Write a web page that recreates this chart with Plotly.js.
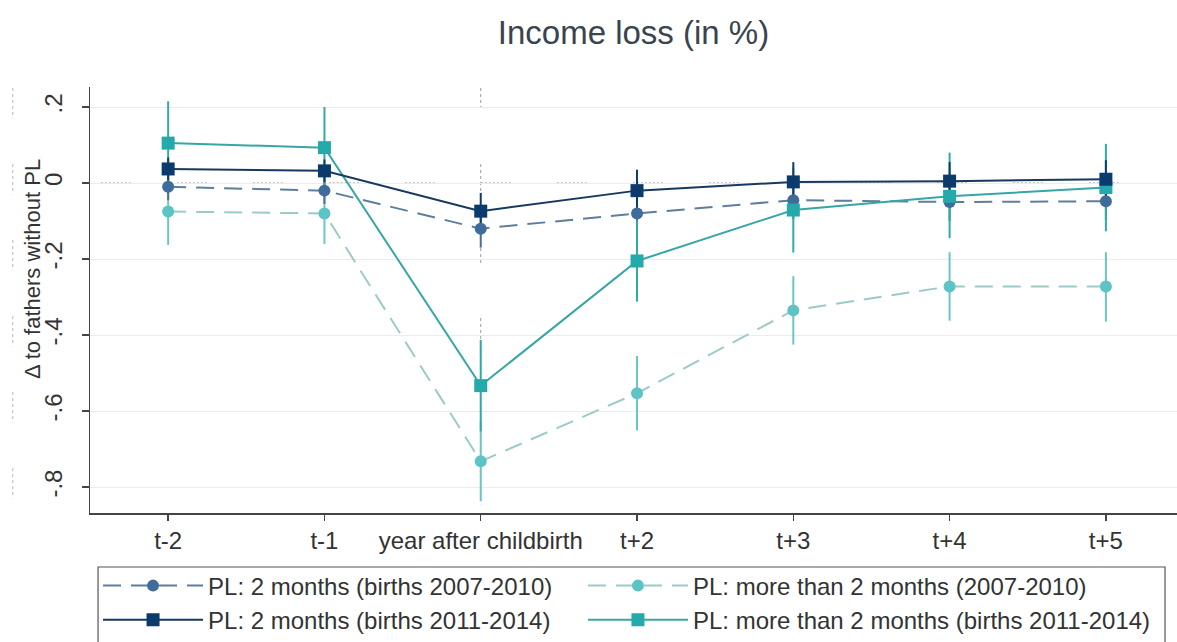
<!DOCTYPE html>
<html>
<head>
<meta charset="utf-8">
<script src="https://cdn.plot.ly/plotly-3.0.1.min.js"></script>
<style>html,body{margin:0;padding:0;background:#fff;}#chart{width:1177px;height:642px;}</style>
</head>
<body>
<div id="chart"></div>
<script>
// Categories (x axis)
const categories = ["t-2", "t-1", "year after childbirth", "t+2", "t+3", "t+4", "t+5"];

// Y tick labels
const yTickVals = [-0.8, -0.6, -0.4, -0.2, 0, 0.2];
const yTickText = ["-.8", "-.6", "-.4", "-.2", "0", ".2"];
const yTitle = "Δ to fathers without PL";

// Series names
const nameA = "PL: 2 months (births 2007-2010)";
const nameB = "PL: 2 months (births 2011-2014)";
const nameC = "PL: more than 2 months (2007-2010)";
const nameD = "PL: more than 2 months (births 2011-2014)";

// Point estimates
const valA = [-0.010, -0.020, -0.120, -0.080, -0.045, -0.050, -0.048];
const valB = [0.037, 0.032, -0.074, -0.020, 0.003, 0.005, 0.010];
const valC = [-0.075, -0.080, -0.732, -0.553, -0.335, -0.272, -0.272];
const valD = [0.105, 0.093, -0.533, -0.205, -0.071, -0.035, -0.012];

// Confidence intervals (upper / lower)
const hiA = [0.025, 0.015, -0.070, -0.030, 0.005, 0.000, 0.002];
const loA = [-0.045, -0.055, -0.170, -0.130, -0.095, -0.100, -0.098];
const hiB = [0.067, 0.062, -0.026, 0.035, 0.055, 0.055, 0.060];
const loB = [0.007, 0.002, -0.122, -0.075, -0.049, -0.045, -0.040];
const hiC = [0.013, 0.000, -0.627, -0.455, -0.245, -0.182, -0.182];
const loC = [-0.163, -0.160, -0.837, -0.651, -0.425, -0.362, -0.365];
const hiD = [0.215, 0.200, -0.413, -0.098, 0.041, 0.080, 0.103];
const loD = [-0.005, -0.014, -0.653, -0.312, -0.183, -0.145, -0.127];

const colA = "#3f6c9b", lineA = "#5f7d9c";
const colB = "#0b3a6c", lineB = "#17395f";
const colC = "#5cc4c4", lineC = "#9ccaca";
const colD = "#24aaaa", lineD = "#36a6a6";

function ciTrace(vals, hi, lo, color) {
  return {
    x: categories, y: vals, type: "scatter", mode: "markers",
    marker: {size: 1, color: "rgba(0,0,0,0)"},
    error_y: {
      type: "data", symmetric: false,
      array: hi.map((h, i) => h - vals[i]),
      arrayminus: lo.map((l, i) => vals[i] - l),
      color: color, thickness: 2, width: 0
    },
    showlegend: false, hoverinfo: "skip"
  };
}

function mainTrace(vals, name, color, lcolor, dash, symbol, size, rank, leg) {
  return {
    x: categories, y: vals, type: "scatter", mode: "lines+markers", name: name,
    line: {color: lcolor, width: 2, dash: dash},
    marker: {color: color, symbol: symbol, size: size},
    legendrank: rank, legend: leg
  };
}

const data = [
  ciTrace(valC, hiC, loC, "#6cc5c5"),
  ciTrace(valA, hiA, loA, "#4a6f96"),
  ciTrace(valD, hiD, loD, "#30a9a9"),
  ciTrace(valB, hiB, loB, "#0c3b6d"),
  mainTrace(valC, nameC, colC, lineC, "18px,10px", "circle", 12, 1, "legend2"),
  mainTrace(valA, nameA, colA, lineA, "18px,10px", "circle", 12, 1, "legend"),
  mainTrace(valD, nameD, colD, lineD, "solid", "square", 13, 2, "legend2"),
  mainTrace(valB, nameB, colB, lineB, "solid", "square", 13, 2, "legend")
];

const dotted = {color: "#9a9a9a", width: 1, dash: "dot"};
const shapes = [
  {type: "line", xref: "paper", yref: "y", x0: 0.01, x1: 0.97, y0: 0, y1: 0, layer: "below",
   line: {color: "#8a8a8a", width: 1, dash: "2px,2px,2px,2px,2px,2px,2px,2px,2px,2px,2px,2px,2px,2px,2px,46px"}},
  {type: "line", xref: "x", yref: "y", x0: "year after childbirth", x1: "year after childbirth", y0: 0.25, y1: 0.2, layer: "below", line: dotted},
  {type: "line", xref: "x", yref: "y", x0: "year after childbirth", x1: "year after childbirth", y0: 0.05, y1: -0.215, layer: "below", line: dotted},
  {type: "line", xref: "x", yref: "y", x0: "year after childbirth", x1: "year after childbirth", y0: -0.355, y1: -0.845, layer: "below", line: dotted},
  // legend frame
  {type: "rect", xref: "paper", yref: "paper", x0: 0.0074, x1: 0.989, y0: -0.1268, y1: -0.33,
   line: {color: "#555", width: 1.2}, fillcolor: "rgba(0,0,0,0)"}
];
yTickVals.forEach(v => {
  shapes.push({type: "line", xref: "paper", yref: "y", x0: -0.071, x1: -0.071, y0: v + 0.05, y1: v - 0.03,
    line: {color: "#b5b5b5", width: 1, dash: "dot"}});
});

const legBase = {
  orientation: "v", yanchor: "top", y: -0.1186,
  borderwidth: 0, bgcolor: "rgba(0,0,0,0)",
  font: {size: 24, color: "#333"},
  itemwidth: 100, traceorder: "normal"
};

const layout = {
  width: 1177, height: 642,
  paper_bgcolor: "#ffffff", plot_bgcolor: "#ffffff",
  margin: {l: 90, r: 0, t: 87, b: 129, autoexpand: false},
  font: {family: "Liberation Sans, Arial, sans-serif", color: "#333333", size: 24},
  title: {text: "Income loss (in %)", x: 0.5, xref: "paper", xanchor: "center",
          y: 0.949, yref: "container", yanchor: "middle",
          font: {size: 33, color: "#3a4450"}},
  xaxis: {
    type: "category", range: [-0.5, 6.455],
    showline: true, linecolor: "#444", linewidth: 1.5, mirror: false,
    ticks: "outside", ticklen: 6, tickcolor: "#444", tickwidth: 1.5,
    showgrid: false, zeroline: false,
    tickfont: {size: 24, color: "#333"}
  },
  yaxis: {
    range: [-0.868, 0.2526],
    tickvals: yTickVals, ticktext: yTickText, tickangle: -90,
    showline: true, linecolor: "#444", linewidth: 1.5,
    ticks: "outside", ticklen: 7, tickcolor: "#444", tickwidth: 1.5,
    ticklabelstandoff: 10,
    showgrid: true, gridcolor: "#ececec", gridwidth: 1, zeroline: false,
    tickfont: {size: 24, color: "#333"}
  },
  annotations: [{
    text: yTitle, textangle: -90, showarrow: false,
    xref: "paper", yref: "paper", x: -0.0524, y: 0.573, xanchor: "center", yanchor: "middle",
    font: {size: 22, color: "#333"}
  }],
  legend: Object.assign({}, legBase, {x: 0.0074, xanchor: "left"}),
  legend2: Object.assign({}, legBase, {x: 0.4535, xanchor: "left"}),
  shapes: shapes,
  showlegend: true
};

Plotly.newPlot("chart", data, layout, {displayModeBar: false, staticPlot: true});
</script>
</body>
</html>
